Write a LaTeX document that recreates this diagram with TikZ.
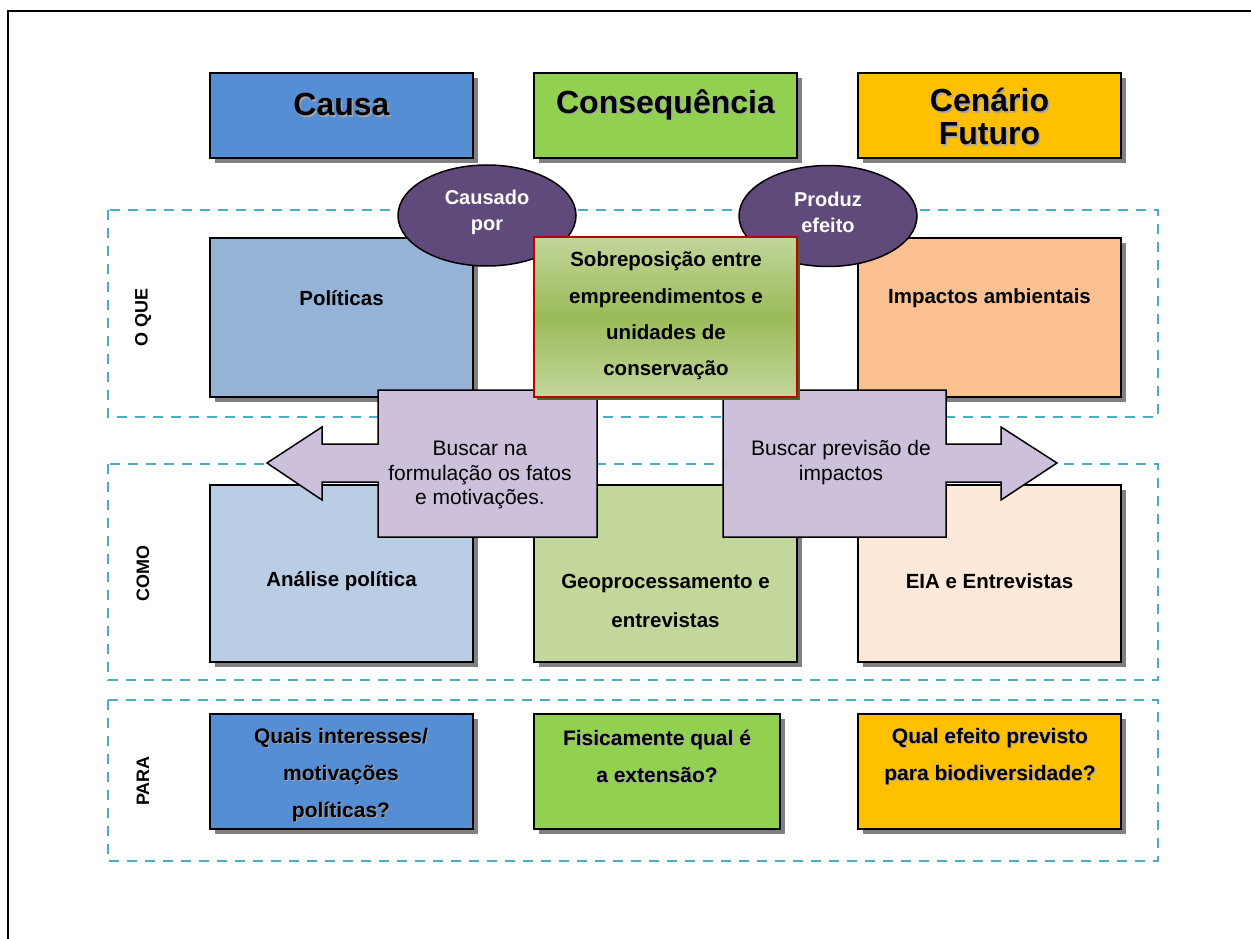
\documentclass[tikz,border=0pt]{standalone}
\usepackage{fontspec}
\setmainfont{Liberation Sans}
\usetikzlibrary{shapes.geometric,shadows}
\definecolor{causa}{HTML}{558ED5}
\definecolor{conseq}{HTML}{92D050}
\definecolor{cenario}{HTML}{FFC000}
\definecolor{politicas}{HTML}{95B3D7}
\definecolor{impactos}{HTML}{FAC090}
\definecolor{analise}{HTML}{B9CDE5}
\definecolor{geo}{HTML}{C3D69B}
\definecolor{eia}{HTML}{FDE9D9}
\definecolor{roxo}{HTML}{604A7B}
\definecolor{lilas}{HTML}{CCC0DA}
\definecolor{tracejado}{HTML}{4BACC6}
\definecolor{cinza}{HTML}{808080}
\definecolor{cinzaclaro}{HTML}{A6A6A6}
\definecolor{verdeclaro}{HTML}{C3D69B}
\definecolor{verdemedio}{HTML}{9BBB59}
\definecolor{verdeescuro}{HTML}{4F6228}
\definecolor{vermelho}{HTML}{C00000}
\begin{document}
\begin{tikzpicture}[x=1pt,y=-1pt,
  caixa/.style={draw=black, line width=2pt, inner sep=0pt,
    drop shadow={shadow xshift=5pt, shadow yshift=-5pt, fill=cinza, opacity=1}},
  faixa/.style={draw=tracejado, line width=2pt, dash pattern=on 10pt off 8pt},
  balao/.style={ellipse, draw=black, line width=1.5pt, fill=roxo, inner sep=0pt,
    minimum width=178, minimum height=101},
  chamada/.style={draw=black, line width=1.5pt, fill=lilas, line join=miter},
  titulo/.style={font=\bfseries\fontsize{32}{33}\selectfont, align=center, inner sep=0pt},
  titulosombra/.style={titulo, text=cinzaclaro},
  textobal/.style={font=\bfseries\fontsize{20}{26}\selectfont, text=white, align=center, inner sep=0pt},
  textocx/.style={font=\bfseries\fontsize{20.5}{39}\selectfont, align=center, inner sep=0pt},
  textocentro/.style={font=\bfseries\fontsize{20.5}{36.3}\selectfont, align=center, inner sep=0pt},
  textopara/.style={font=\bfseries\fontsize{21}{37}\selectfont, align=center, inner sep=0pt},
  textopsombra/.style={textopara, text=cinzaclaro},
  textocham/.style={font=\fontsize{21}{24.5}\selectfont, align=center, inner sep=0pt},
  rotulo/.style={font=\bfseries\fontsize{18}{20}\selectfont, rotate=90, inner sep=0pt}]
\useasboundingbox (0,0) rectangle (1251,939);
% outer frame
\begin{scope}
\clip (0,0) rectangle (1251,939);
\draw[line width=2.5pt] (8,11) rectangle (1300,1000);
\end{scope}
% headers
\node[caixa, fill=causa, minimum width=263, minimum height=85] (hcausa) at (341.5,115.5) {};
\node[caixa, fill=conseq, minimum width=263, minimum height=85] (hconseq) at (665.5,115.5) {};
\node[caixa, fill=cenario, minimum width=263, minimum height=85] (hcenario) at (989.5,115.5) {};
% dashed bands
\draw[faixa] (108,210) rectangle (1158,417);
\draw[faixa] (108,464) rectangle (1158,680);
\draw[faixa] (108,700) rectangle (1158,861);
% O QUE row
\node[caixa, fill=politicas, minimum width=263, minimum height=159] (bpol) at (341.5,317.5) {};
\node[caixa, fill=impactos, minimum width=263, minimum height=159] (bimp) at (989.5,317.5) {};
% COMO row
\node[caixa, fill=analise, minimum width=263, minimum height=177] (bana) at (341.5,573.5) {};
\node[caixa, fill=geo, minimum width=263, minimum height=177] (bgeo) at (665.5,573.5) {};
\node[caixa, fill=eia, minimum width=263, minimum height=177] (beia) at (989.5,573.5) {};
% PARA row
\node[caixa, fill=causa, minimum width=263, minimum height=115] (pcausa) at (341.5,771.5) {};
\node[caixa, fill=conseq, minimum width=246, minimum height=115] (pconseq) at (657,771.5) {};
\node[caixa, fill=cenario, minimum width=263, minimum height=115] (pcenario) at (989.5,771.5) {};
% ellipses
\node[balao] (ecausado) at (487,215.5) {};
\node[balao] (eproduz) at (828,216) {};
% callouts
\draw[chamada] (378,390) -- (597,390) -- (597,537) -- (378,537) -- (378,482) -- (322,482)
  -- (322,500) -- (267,463) -- (322,427) -- (322,444) -- (378,444) -- cycle;
\draw[chamada] (723,390) -- (946,390) -- (946,444) -- (1001,444) -- (1001,427) -- (1057,463)
  -- (1001,500) -- (1001,482) -- (946,482) -- (946,537) -- (723,537) -- cycle;
% central box
\fill[verdeescuro] (537,240) rectangle (800,400);
\node[draw=vermelho, line width=2pt, inner sep=0pt, minimum width=263, minimum height=160,
  top color=verdeclaro, bottom color=verdeclaro, middle color=verdemedio] (bcentro) at (665.5,317) {};
% texts
\node[titulosombra] (tcausas) at (343,106) {Causa};
\node[titulo] (tcausa) at (341.5,104.5) {Causa};
\node[titulosombra] (tconseqs) at (667,106) {Consequência};
\node[titulo] (tconseq) at (665.5,104.5) {Consequência};
\node[titulosombra] (tcenarios) at (991,118) {Cenário\\Futuro};
\node[titulo] (tcenario) at (989.5,116.5) {Cenário\\Futuro};
\node[textobal] (tcausado) at (487,212) {Causado\\por};
\node[textobal] (tproduz) at (828,212) {Produz\\efeito};
\node[textocentro] (tcentro) at (666,316) {Sobreposição entre\\empreendimentos e\\unidades de\\conservação};
\node[textocx] (tpol) at (341.5,298) {Políticas};
\node[textocx] (timp) at (989.5,298) {Impactos ambientais};
\node[textocx] (tana) at (341.5,581) {Análise política};
\node[textocx] (tgeo) at (665.5,600.5) {Geoprocessamento e\\entrevistas};
\node[textocx] (teia) at (989.5,581) {EIA e Entrevistas};
\node[textocham] (tbusca1) at (480,475) {Buscar na\\formulação os fatos\\e motivações.};
\node[textocham] (tbusca2) at (841,462.5) {Buscar previsão de\\impactos};
\begin{scope}
\clip (211,715) rectangle (472,821);
\node[textopsombra] (tquaiss) at (342,776) {Quais interesses/\\motivações\\políticas?};
\node[textopara] (tquais) at (341,775) {Quais interesses/\\motivações\\políticas?};
\end{scope}
\node[textopsombra] (tfisis) at (658,757.5) {Fisicamente qual é\\a extensão?};
\node[textopara] (tfisi) at (657,756.5) {Fisicamente qual é\\a extensão?};
\node[textopsombra] (tquals) at (991,757.5) {Qual efeito previsto\\para biodiversidade?};
\node[textopara] (tqual) at (990,756.5) {Qual efeito previsto\\para biodiversidade?};
\node[rotulo] (roque) at (143,317) {O QUE};
\node[rotulo] (rcomo) at (143,573) {COMO};
\node[rotulo] (rpara) at (143,781) {PARA};
\end{tikzpicture}
\end{document}
